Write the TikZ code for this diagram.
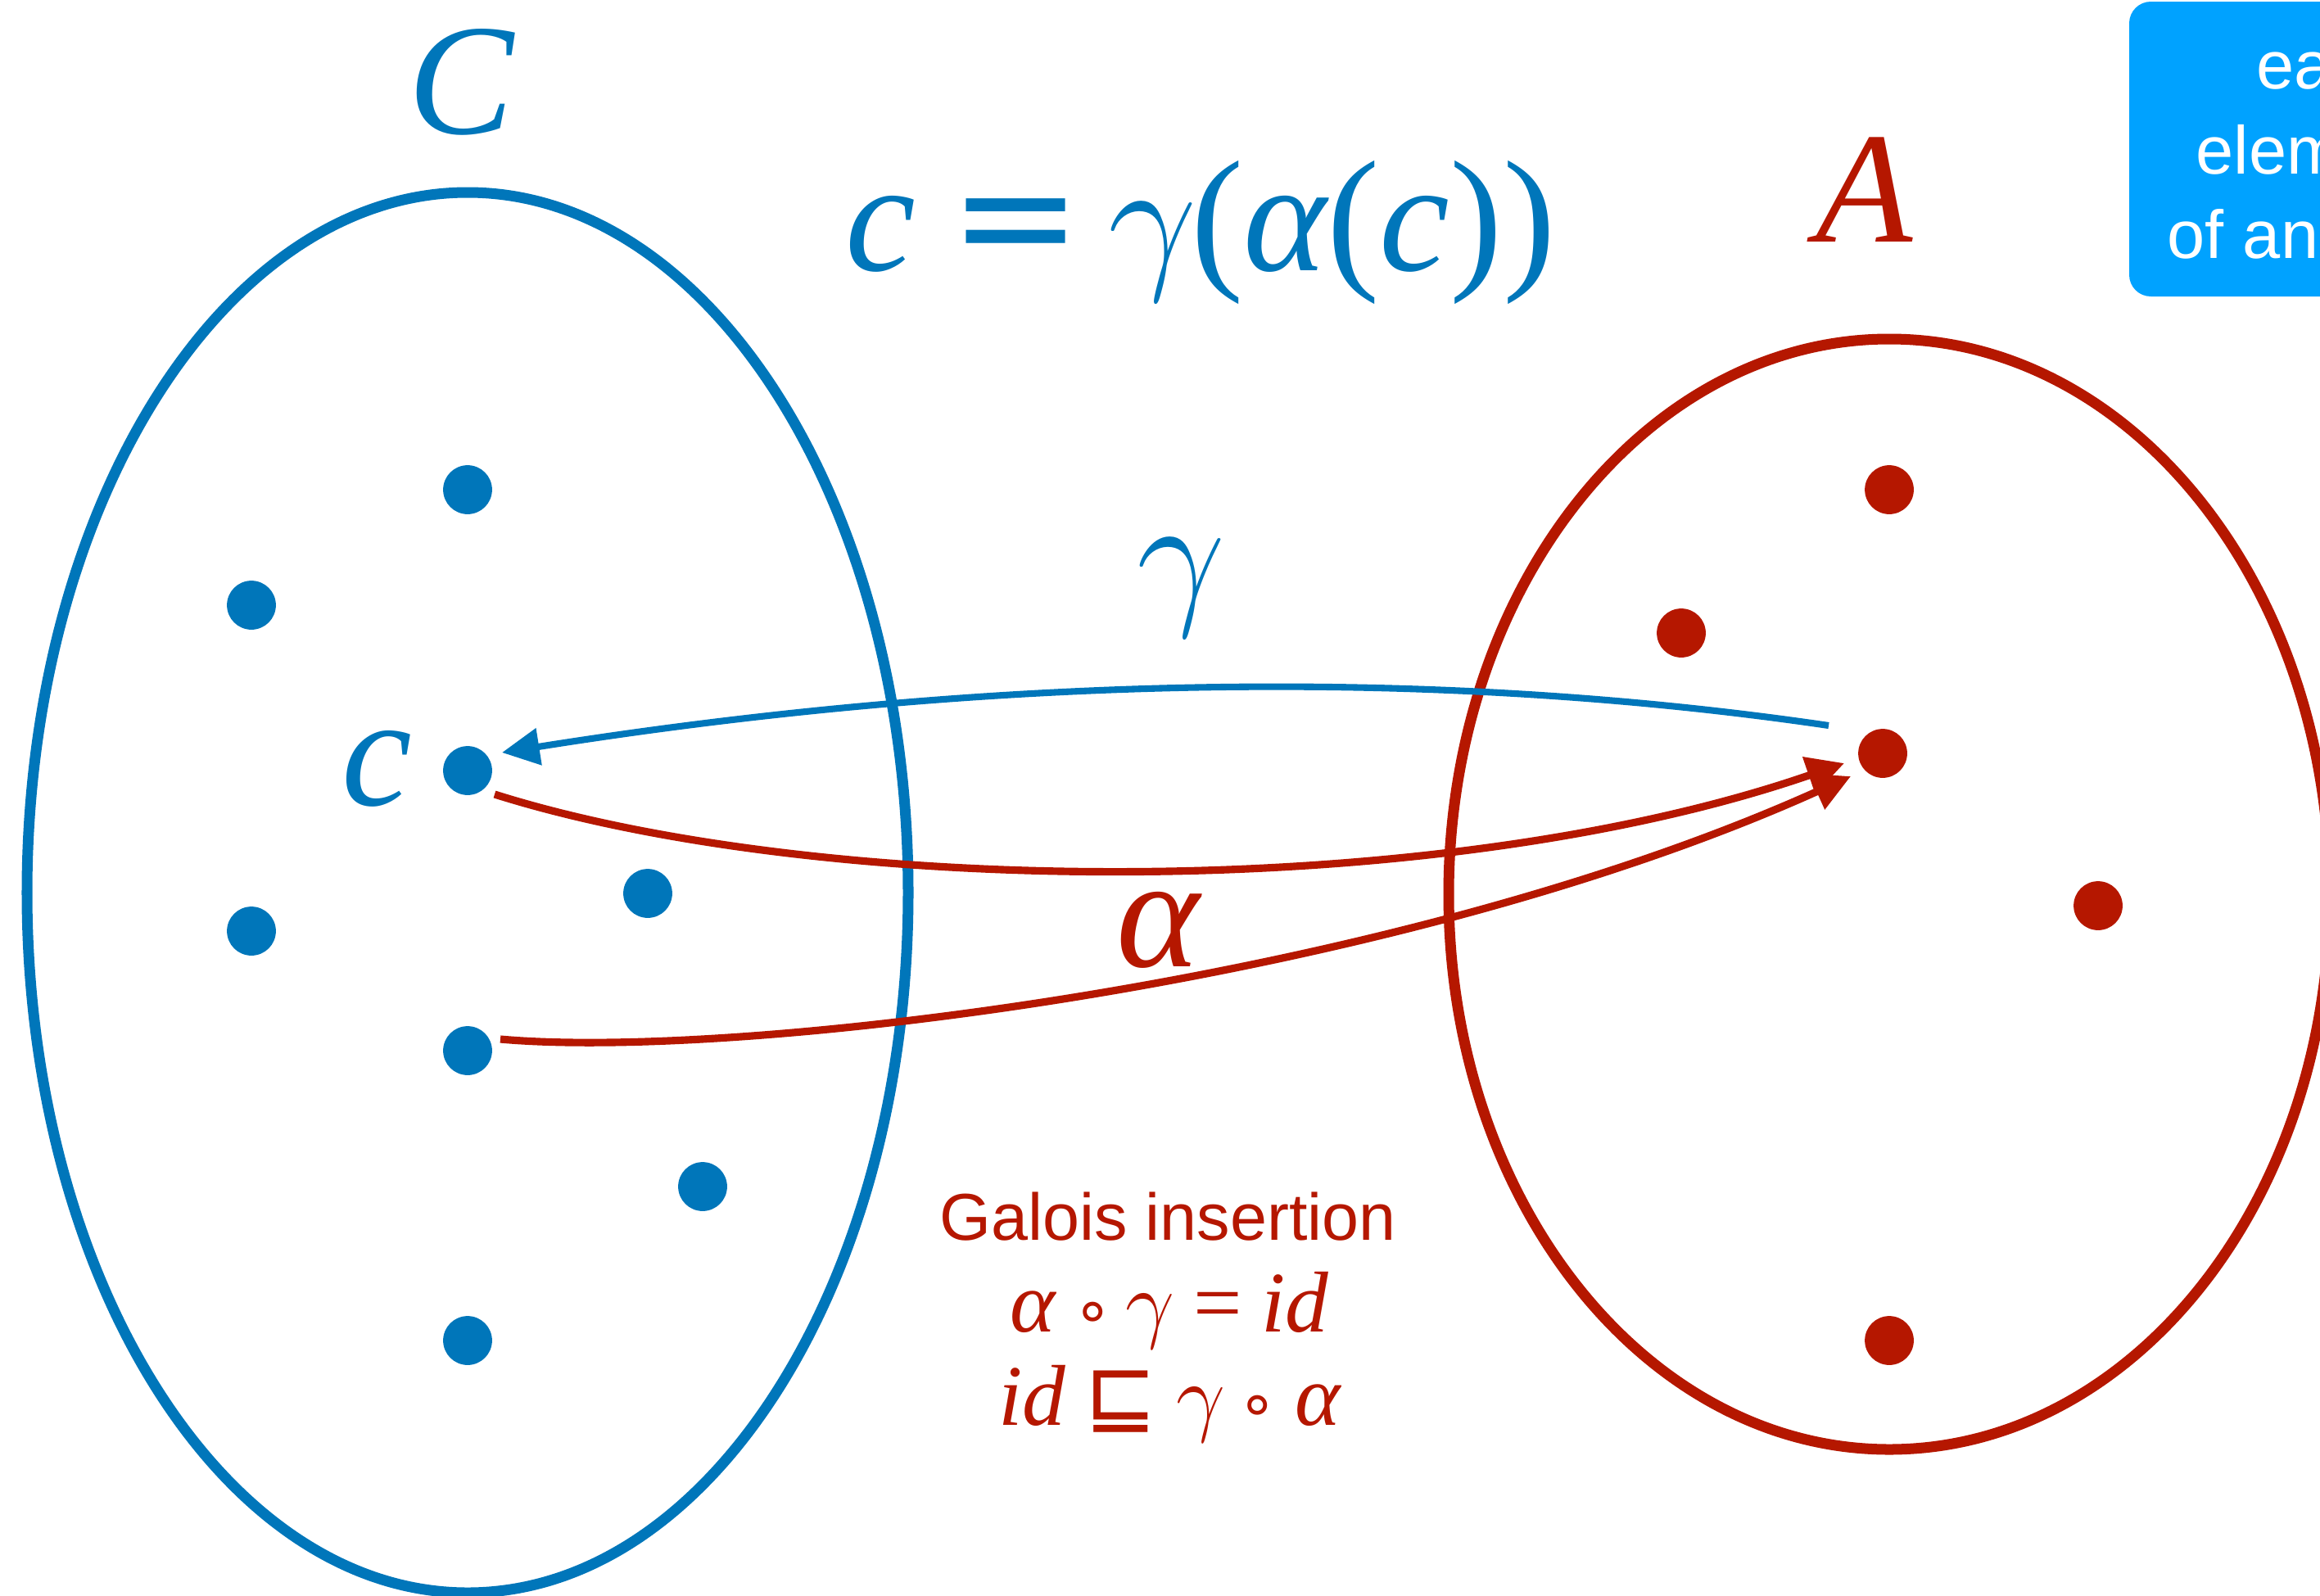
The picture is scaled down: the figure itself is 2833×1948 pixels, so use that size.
\documentclass[tikz,border=0pt]{standalone}
\usepackage{graphicx}
\usepackage{fontspec}
\setmainfont{Liberation Sans}
\newfontfamily\tim{Liberation Serif}
\newfontfamily\djv{DejaVu Sans}
\usetikzlibrary{arrows.meta,calc}
\definecolor{cblue}{HTML}{0076BA}
\definecolor{cred}{HTML}{B51700}
\definecolor{cbox}{HTML}{00A2FF}
\newcommand\mi[1]{{\tim\itshape #1}}
\newcommand\eqsign{{\djv\upshape =}}
\newcommand\teq{{\tim\upshape =}}
\newcommand\cmp{{\fontsize{22}{26}\selectfont\djv\upshape ∘}}
\newcommand\sqle{{\djv\upshape ⊑}}
\newcommand\gam[1]{\scalebox{#1}{\fontsize{24.88}{30}\selectfont$\gamma$}}
\begin{document}
\begin{tikzpicture}[x=0.01cm,y=-0.01cm,
  bdot/.style={circle,fill=cblue,inner sep=0pt,minimum size=17pt},
  rdot/.style={circle,fill=cred,inner sep=0pt,minimum size=17pt},
  setline/.style={line width=3.7pt},
  bigmath/.style={font=\fontsize{55}{60}\selectfont\tim\itshape,inner sep=0pt,anchor=base},
  redarrow/.style={draw=cred,line width=2.6pt,-{Triangle[length=13pt,width=13pt]}},
  bluearrow/.style={draw=cblue,line width=2.3pt,-{Triangle[length=13pt,width=12.5pt]}},
  boxtext/.style={text=white,font=\fontsize{23.6}{28}\selectfont,inner sep=0pt,anchor=base west},
  eqtext/.style={text=cred,font=\fontsize{30}{36}\selectfont,inner sep=0pt,anchor=base}
]
\useasboundingbox (0,0) rectangle (2833,1948);
% sets
\draw[setline,cblue] (571,1090) ellipse [x radius=538, y radius=855];
\draw[setline,cred] (2307,1092) ellipse [x radius=538, y radius=678];
% box
\fill[cbox,rounded corners=7.5pt] (2600,2) rectangle (3000,362);
\node[boxtext] (t1) at (2755,108) {ea};
\node[boxtext] (t2) at (2681,212) {elem};
\node[boxtext] (t3) at (2646,315) {of an};
% labels
\node[bigmath,text=cblue] (lC) at (563,163) {C};
\node[bigmath,text=cred] (lA) at (2277,295) {A};
\node[bigmath,text=cblue] (eq) at (1466,330) {c\hspace{0.21em}\eqsign\hspace{0.17em}\gam{2.2}\hspace{-0.04em}{\upshape(}α{\upshape(}c{\upshape))}};
\node[bigmath,text=cblue] (lg) at (1443,740) {\gam{2.2}};
\node[bigmath,text=cred] (la) at (1414,1180) {α};
\node[bigmath,text=cblue] (lc) at (460,983) {c};
\node[eqtext,font=\fontsize{23}{28}\selectfont] (gi) at (1426,1514) {Galois insertion};
\node[eqtext] (e1) at (1428,1626) {\mi{α}\hspace{0.2em}\cmp\hspace{0.15em}\gam{1.22}\hspace{0.22em}\teq\hspace{0.22em}\mi{id}};
\node[eqtext] (e2) at (1428,1740) {\mi{id}\hspace{0.22em}\sqle\hspace{0.22em}\gam{1.22}\hspace{0.15em}\cmp\hspace{0.2em}\mi{α}};
% dots C
\node[bdot] (b1) at (571,598) {};
\node[bdot] (b2) at (307,739) {};
\node[bdot] (c) at (571,941) {};
\node[bdot] (b4) at (307,1137) {};
\node[bdot] (b5) at (791,1091) {};
\node[bdot] (b6) at (571,1283) {};
\node[bdot] (b7) at (858,1449) {};
\node[bdot] (b8) at (571,1637) {};
% dots A
\node[rdot] (r1) at (2307,598) {};
\node[rdot] (r2) at (2053,773) {};
\node[rdot] (r3) at (2299,920) {};
\node[rdot] (r4) at (2562,1106) {};
\node[rdot] (r5) at (2307,1637) {};
% arrows
\draw[bluearrow] ($(r3)+(-66,-34)$) .. controls (1744,814) and (1204,825) .. ($(c)+(42,-22)$);
\draw[redarrow] ($(c)+(33,29)$) .. controls (1000,1095) and (1750,1105) .. ($(r3)+(-47,12)$);
\draw[redarrow] ($(b6)+(40,-14)$) .. controls (900,1295) and (1700,1200) .. ($(r3)+(-39,28)$);
\end{tikzpicture}
\end{document}
